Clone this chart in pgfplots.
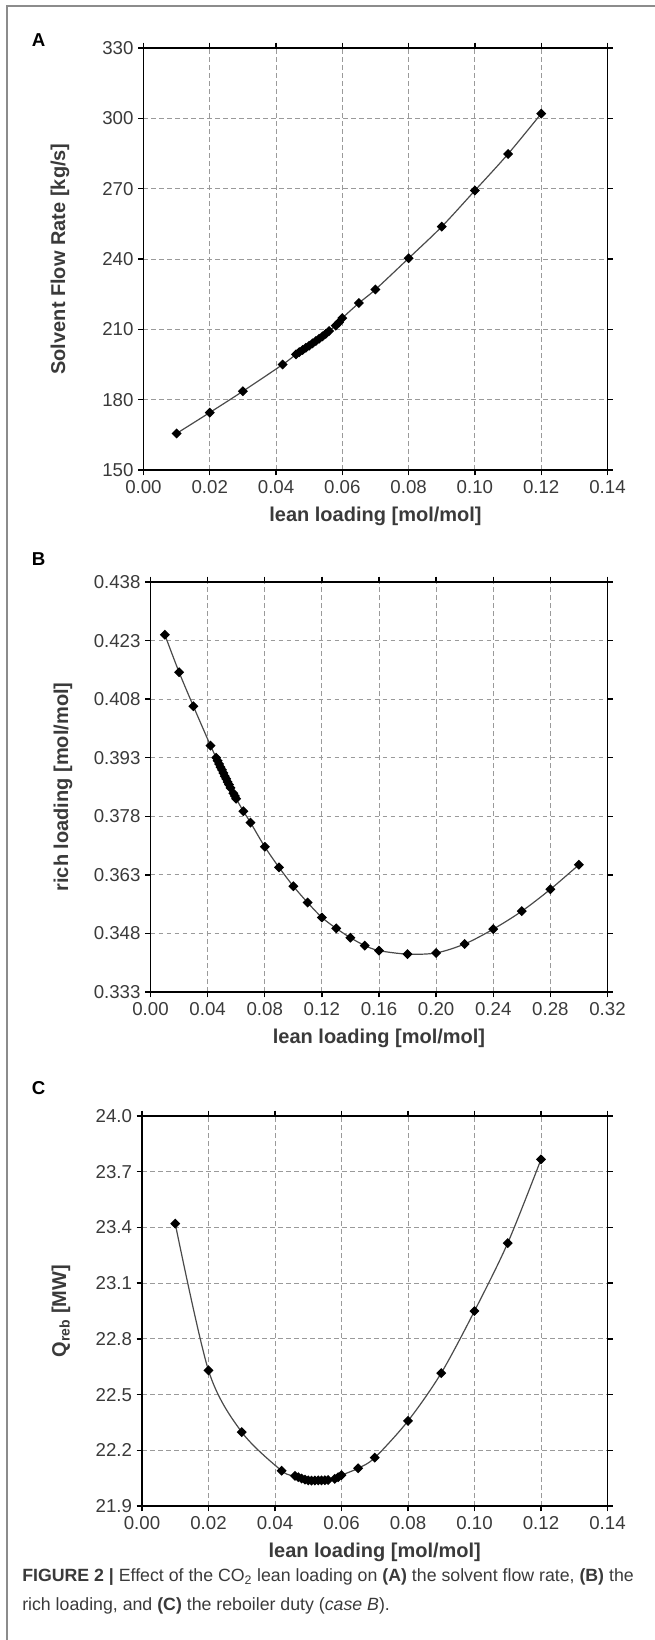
\documentclass[border=0pt]{standalone}
\usepackage{fontspec}
\setmainfont{Liberation Sans}
\usepackage{pgfplots}
\pgfplotsset{compat=1.18}

\definecolor{gridgray}{HTML}{9A9A9A}
\definecolor{curvegray}{HTML}{4A4A4A}
\definecolor{framegray}{HTML}{8C8C8C}
\definecolor{txtgray}{HTML}{3A3A3A}

\pgfplotsset{
  panel/.style={
    scale only axis,
    anchor=north west,
    axis line style={black, line width=1.1pt},
    tick style={black, line width=1pt},
    major tick length=4pt,
    tick align=outside,
    grid=major,
    major grid style={gridgray, line width=0.7pt, dash pattern=on 3.5pt off 2.5pt},
    tick label style={font=\fontsize{14}{16}\selectfont, text=txtgray},
    /pgf/number format/assume math mode=true,
    every axis x label/.style={at={(axis description cs:0.5,0)}, anchor=center, yshift=-35pt,
      font=\bfseries\fontsize{15}{17}\selectfont, text=txtgray},
    xlabel={lean loading [mol/mol]},
    enlargelimits=false,
    clip=false,
  },
  ylab/.style={every axis y label/.style={at={(axis description cs:0,0.5)}, anchor=center, xshift=#1, rotate=90,
      font=\bfseries\fontsize{15}{17}\selectfont, text=txtgray}},
  curve/.style={curvegray, line width=0.9pt, smooth, mark=square*, mark size=2.2pt,
      mark options={black, fill=black, solid, rotate=45}},
}

\begin{document}
\begin{tikzpicture}
\useasboundingbox (0,0) rectangle (491.25pt,-1230pt);
\draw[framegray, line width=1.1pt] (5.25pt,-1230pt) -- (5.25pt,-4.5pt) -- (491.25pt,-4.5pt);

% (A) solvent flow rate
\begin{axis}[panel, ylab=-62.6pt,
    at={(107.6pt,-36pt)}, width=348pt, height=316.5pt,
    xmin=0, xmax=0.14, ymin=150, ymax=330,
    xtick={0,0.02,0.04,0.06,0.08,0.10,0.12,0.14},
    xticklabels={0.00,0.02,0.04,0.06,0.08,0.10,0.12,0.14},
    ytick={150,180,210,240,270,300,330},
    yticklabels={150,180,210,240,270,300,330},
    ylabel={Solvent Flow Rate [kg/s]}]
\addplot[curve] coordinates {
  (0.010,165.6) (0.020,174.5) (0.030,183.6) (0.042,195.0) (0.046,199.3)
  (0.047,200.3) (0.048,201.2) (0.049,202.1) (0.050,203.0) (0.051,204.0)
  (0.052,205.0) (0.053,206.0) (0.054,207.0) (0.055,208.1) (0.056,209.3)
  (0.058,211.6) (0.059,213.0) (0.060,214.8) (0.065,221.2) (0.070,227.0)
  (0.080,240.3) (0.090,253.8) (0.100,269.2) (0.110,284.8) (0.120,302.0)
};
\end{axis}

% (B) rich loading
\begin{axis}[panel, ylab=-65.6pt,
    at={(112.9pt,-436.5pt)}, width=342.7pt, height=307.5pt,
    xmin=0, xmax=0.32, ymin=0.333, ymax=0.438,
    xtick={0,0.04,0.08,0.12,0.16,0.20,0.24,0.28,0.32},
    xticklabels={0.00,0.04,0.08,0.12,0.16,0.20,0.24,0.28,0.32},
    ytick={0.333,0.348,0.363,0.378,0.393,0.408,0.423,0.438},
    yticklabels={0.333,0.348,0.363,0.378,0.393,0.408,0.423,0.438},
    ylabel={rich loading [mol/mol]}]
\addplot[curve] coordinates {
  (0.010,0.4245) (0.020,0.4149) (0.030,0.4062) (0.042,0.3961) (0.046,0.3930)
  (0.047,0.3922) (0.048,0.3914) (0.049,0.3906) (0.050,0.3899) (0.051,0.3891)
  (0.052,0.3883) (0.053,0.3876) (0.054,0.3868) (0.055,0.3861) (0.056,0.3853)
  (0.058,0.3839) (0.059,0.3832) (0.060,0.3825) (0.065,0.3793) (0.070,0.3764)
  (0.080,0.3702) (0.090,0.3649) (0.100,0.3601) (0.110,0.3559) (0.120,0.3521)
  (0.130,0.3493) (0.140,0.3469) (0.150,0.3449) (0.160,0.3436) (0.180,0.3427)
  (0.200,0.3430) (0.220,0.3453) (0.240,0.3491) (0.260,0.3537) (0.280,0.3593)
  (0.300,0.3656)
};
\end{axis}

% (C) reboiler duty
\begin{axis}[panel, ylab=-60.75pt,
    at={(106.5pt,-837pt)}, width=349.1pt, height=292.5pt,
    xmin=0, xmax=0.14, ymin=21.9, ymax=24.0,
    xtick={0,0.02,0.04,0.06,0.08,0.10,0.12,0.14},
    xticklabels={0.00,0.02,0.04,0.06,0.08,0.10,0.12,0.14},
    ytick={21.9,22.2,22.5,22.8,23.1,23.4,23.7,24.0},
    yticklabels={21.9,22.2,22.5,22.8,23.1,23.4,23.7,24.0},
    ylabel={Q\textsubscript{reb} [MW]}]
\addplot[curve] coordinates {
  (0.010,23.420) (0.020,22.630) (0.030,22.298) (0.042,22.090) (0.046,22.062)
  (0.047,22.055) (0.048,22.048) (0.049,22.042) (0.050,22.038) (0.051,22.037)
  (0.052,22.037) (0.053,22.038) (0.054,22.038) (0.055,22.039) (0.056,22.040)
  (0.058,22.046) (0.059,22.055) (0.060,22.066) (0.065,22.103) (0.070,22.160)
  (0.080,22.358) (0.090,22.616) (0.100,22.950) (0.110,23.316) (0.120,23.766)
};
\end{axis}

\begin{scope}[font=\bfseries\fontsize{14}{16}\selectfont]
\node at (29pt,-29.9pt) {A};
\node at (29pt,-419.5pt) {B};
\node at (29pt,-816.4pt) {C};
\end{scope}

\begin{scope}[font=\fontsize{13.3}{16}\selectfont, text=txtgray]
\node[anchor=west, inner sep=0pt] at (16.5pt,-1182.5pt) {\textbf{FIGURE 2 |} Effect of the CO\textsubscript{2} lean loading on \textbf{(A)} the solvent flow rate, \textbf{(B)} the};
\node[anchor=west, inner sep=0pt] at (16.5pt,-1204.5pt) {rich loading, and \textbf{(C)} the reboiler duty (\textit{case B}).};
\end{scope}
\end{tikzpicture}
\end{document}
